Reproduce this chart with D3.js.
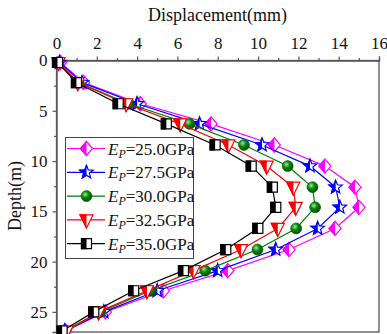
<!DOCTYPE html>
<html><head><meta charset="utf-8">
<script src="https://cdn.jsdelivr.net/npm/d3@7"></script>
<style>
body{margin:0;background:#fff;}
text{font-family:"Liberation Serif","Times New Roman",serif;}
</style></head>
<body><svg id="chart" width="387" height="334"></svg>
<script>
const depths = [0.2, 2.2, 4.3, 6.3, 8.4, 10.5, 12.6, 14.6, 16.7, 18.8, 20.9, 22.9, 25.0, 26.9];
const ep25 = [0.2, 1.35, 4.16, 7.67, 10.81, 13.32, 14.81, 15.01, 13.82, 11.54, 8.5, 5.31, 2.43, 0.45];
const ep275 = [0.15, 1.27, 4.0, 7.1, 10.2, 12.58, 13.85, 14.06, 12.96, 10.88, 8.0, 5.0, 2.35, 0.4];
const ep30 = [0.1, 1.1, 3.58, 6.6, 9.3, 11.47, 12.7, 12.83, 11.89, 9.97, 7.38, 4.66, 2.18, 0.35];
const ep325 = [0.1, 1.06, 3.46, 6.14, 8.53, 10.43, 11.75, 11.87, 10.98, 9.16, 6.8, 4.49, 2.09, 0.5];
const ep35 = [0.05, 0.99, 3.06, 5.45, 7.87, 9.66, 10.71, 10.88, 9.99, 8.4, 6.3, 3.83, 1.85, 0.28];
const seriesLabels = ["25.0GPa", "27.5GPa", "30.0GPa", "32.5GPa", "35.0GPa"];
const seriesValues = [ep25, ep275, ep30, ep325, ep35];
const seriesColors = ["#ff00ff", "#0000ff", "#008000", "#ff0000", "#000000"];
const seriesShapes = ["diamond", "star", "circle", "triangle", "square"];
const xTicks = [0, 2, 4, 6, 8, 10, 12, 14, 16];
const yTicks = [0, 5, 10, 15, 20, 25];

const svg = d3.select("#chart");
const x = d3.scaleLinear().domain([0, 16]).range([56.5, 379]);
const y = d3.scaleLinear().domain([0, 27]).range([60.5, 332]);

const defs = svg.append("defs");
defs.append("clipPath").attr("id", "lefthalf").attr("clipPathUnits", "userSpaceOnUse")
  .append("rect").attr("x", -20).attr("y", -20).attr("width", 20).attr("height", 40);
const rg = defs.append("radialGradient").attr("id", "ball").attr("cx", "38%").attr("cy", "35%").attr("r", "65%");
rg.append("stop").attr("offset", "0%").attr("stop-color", "#a8e8a8");
rg.append("stop").attr("offset", "45%").attr("stop-color", "#0a8a0a");
rg.append("stop").attr("offset", "100%").attr("stop-color", "#004d00");

function shapePath(s) {
  if (s === "diamond") return "M0,-7L6,0L0,7L-6,0Z";
  if (s === "square") return "M-5,-5H5V5H-5Z";
  if (s === "triangle") return "M-6.5,-5H6.5L0,8Z";
  if (s === "star") {
    let p = [];
    for (let i = 0; i < 10; i++) {
      const r = i % 2 === 0 ? 7 : 3;
      const a = -Math.PI / 2 + i * Math.PI / 5;
      p.push([r * Math.cos(a), r * Math.sin(a)]);
    }
    return "M" + p.map(d => d[0].toFixed(2) + "," + d[1].toFixed(2)).join("L") + "Z";
  }
  return null;
}
function drawMarker(g, s, color) {
  if (s === "circle") {
    g.append("circle").attr("r", 5.5).attr("fill", "url(#ball)").attr("stroke", "#006000").attr("stroke-width", 0.6);
    return;
  }
  const d = shapePath(s);
  g.append("path").attr("d", d).attr("fill", "#fff").attr("stroke", color).attr("stroke-width", 1.2);
  g.append("path").attr("d", d).attr("fill", color).attr("stroke", color).attr("stroke-width", 1.2)
    .attr("clip-path", "url(#lefthalf)");
}

// frame
svg.append("rect").attr("x", 56.5).attr("y", 60.5).attr("width", 322.5).attr("height", 271.5)
  .attr("fill", "none").attr("stroke", "#555").attr("stroke-width", 1.3);

// axes
const xAxis = svg.append("g").attr("transform", "translate(0,60.5)")
  .call(d3.axisTop(x).tickValues(xTicks).tickSize(4).tickPadding(8).tickFormat(d3.format("d")));
svg.append("g").attr("transform", "translate(0,60.5)")
  .call(d3.axisTop(x).tickValues(d3.range(1, 16, 2)).tickSize(2.5).tickFormat(""))
  .call(g => g.select(".domain").remove());
const yAxis = svg.append("g").attr("transform", "translate(56.5,0)")
  .call(d3.axisLeft(y).tickValues(yTicks).tickSize(4).tickPadding(5).tickFormat(d3.format("d")));
svg.append("g").attr("transform", "translate(56.5,0)")
  .call(d3.axisLeft(y).tickValues([2.5, 7.5, 12.5, 17.5, 22.5]).tickSize(2.5).tickFormat(""))
  .call(g => g.select(".domain").remove());
svg.selectAll(".tick line").attr("stroke", "#555").attr("stroke-width", 1.2);
svg.selectAll(".domain").attr("stroke", "#555").attr("stroke-width", 1.3);
svg.selectAll(".tick text").attr("font-family", "Liberation Serif").attr("font-size", 17).attr("fill", "#111");

svg.append("text").attr("x", 217.5).attr("y", 21).attr("text-anchor", "middle")
  .attr("font-size", 18).attr("fill", "#111").text("Displacement(mm)");
svg.append("text").attr("transform", "translate(21,196) rotate(-90)").attr("text-anchor", "middle")
  .attr("font-size", 18).attr("fill", "#111").text("Depth(m)");

// series
const line = d3.line().x(d => x(d[0])).y(d => y(d[1]));
seriesValues.forEach((vals, i) => {
  const pts = vals.map((v, k) => [v, depths[k]]);
  svg.append("path").attr("d", line(pts)).attr("fill", "none")
    .attr("stroke", seriesColors[i]).attr("stroke-width", 1.2);
  pts.forEach(p => {
    const g = svg.append("g").attr("transform", `translate(${x(p[0])},${y(p[1])})`);
    drawMarker(g, seriesShapes[i], seriesColors[i]);
  });
});

// legend
const leg = svg.append("g");
leg.append("rect").attr("x", 65.5).attr("y", 137.5).attr("width", 128).attr("height", 121)
  .attr("fill", "#fff").attr("stroke", "#444").attr("stroke-width", 1);
seriesLabels.forEach((lab, i) => {
  const yy = 148.5 + i * 23.8;
  leg.append("line").attr("x1", 67).attr("x2", 105).attr("y1", yy).attr("y2", yy)
    .attr("stroke", seriesColors[i]).attr("stroke-width", 1.2);
  const g = leg.append("g").attr("transform", `translate(86.5,${yy})`);
  drawMarker(g, seriesShapes[i], seriesColors[i]);
  const t = leg.append("text").attr("x", 108).attr("y", yy + 6).attr("font-size", 17).attr("fill", "#111");
  t.append("tspan").attr("font-style", "italic").text("E");
  t.append("tspan").attr("font-style", "italic").attr("font-size", 12).attr("dy", 3).text("P");
  t.append("tspan").attr("dy", -3).text("=" + lab);
});
</script></body></html>
